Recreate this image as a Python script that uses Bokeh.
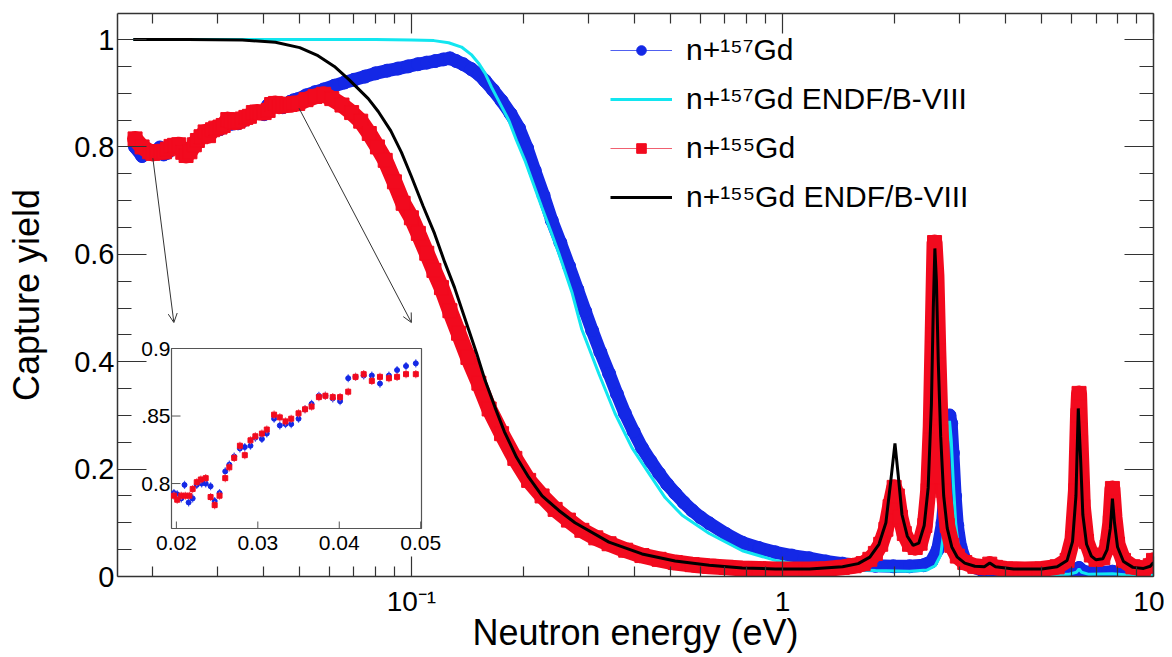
import numpy as np
from bokeh.plotting import figure
from bokeh.models import (ColumnDataSource, Range1d, LinearScale, FixedTicker,
                          LogAxis, LinearAxis, Legend, LegendItem, Arrow, OpenHead)
from bokeh.core.properties import value
from bokeh.embed import file_html
from bokeh.resources import INLINE

# ---------------- data ----------------
# n+157Gd measured capture yield (energy in eV)
e157 = [0.0180, 0.0188,
        0.0197, 0.0201, 0.0206, 0.0210, 0.0215, 0.0220, 0.0225, 0.0231, 0.0236, 0.0242,
        0.0247, 0.0253, 0.0260, 0.0265, 0.0271, 0.0278, 0.0284, 0.0291, 0.0297, 0.0305,
        0.0311, 0.0320, 0.0327, 0.0334, 0.0341, 0.0350, 0.0358, 0.0366, 0.0375, 0.0383,
        0.0392, 0.0401, 0.0411, 0.0420, 0.0430, 0.0440, 0.0450, 0.0461, 0.0471, 0.0482,
        0.0494,
        0.052, 0.055, 0.058, 0.062, 0.066, 0.070, 0.075, 0.080, 0.086, 0.092, 0.098,
        0.104, 0.110, 0.116, 0.122, 0.127, 0.132, 0.138, 0.145, 0.152, 0.158, 0.166,
        0.175, 0.185, 0.195, 0.205, 0.215, 0.227, 0.239, 0.252, 0.266, 0.280, 0.294,
        0.307, 0.323, 0.341, 0.358, 0.376, 0.397, 0.418, 0.441, 0.465, 0.489, 0.514,
        0.542, 0.571, 0.602, 0.635, 0.705, 0.780, 0.865, 0.957, 1.06, 1.18, 1.31,
        1.45, 1.61, 1.78, 1.99, 2.20, 2.40, 2.52, 2.62, 2.70, 2.75, 2.79, 2.82, 2.85,
        2.88, 2.92, 2.96, 3.02, 3.10, 3.25, 3.45, 3.62, 3.80, 4.3, 5.0, 5.7, 6.1, 6.3,
        6.5, 7.0, 7.75, 8.5, 9.3, 9.9]
y157 = [0.800, 0.783,
        0.793, 0.792, 0.789, 0.799, 0.786, 0.789, 0.799, 0.800, 0.800, 0.798,
        0.787, 0.793, 0.809, 0.814, 0.820, 0.826, 0.827, 0.828, 0.834, 0.833,
        0.837, 0.848, 0.843, 0.844, 0.844, 0.848, 0.855, 0.859, 0.865, 0.865,
        0.863, 0.861, 0.878, 0.879, 0.880, 0.880, 0.874, 0.880, 0.884, 0.887,
        0.889,
        0.896, 0.902, 0.907, 0.914, 0.920, 0.925, 0.931, 0.937, 0.942, 0.946, 0.950,
        0.954, 0.957, 0.960, 0.963, 0.965, 0.960, 0.954, 0.945, 0.935, 0.923, 0.906,
        0.886, 0.862, 0.835, 0.798, 0.756, 0.710, 0.663, 0.622, 0.578, 0.535, 0.494,
        0.458, 0.418, 0.378, 0.340, 0.304, 0.270, 0.240, 0.215, 0.192, 0.172, 0.155,
        0.138, 0.123, 0.110, 0.099, 0.079, 0.063, 0.053, 0.045, 0.039, 0.034, 0.028,
        0.024, 0.021, 0.020, 0.019, 0.019, 0.021, 0.028, 0.050, 0.100, 0.170, 0.250,
        0.300, 0.285, 0.230, 0.150, 0.095, 0.055, 0.032, 0.018, 0.012, 0.014, 0.010,
        0.008, 0.007, 0.007, 0.010, 0.016, 0.009, 0.007, 0.009, 0.007, 0.007, 0.010]

# n+155Gd measured capture yield
e155 = [0.0180, 0.0188,
        0.0197, 0.0201, 0.0206, 0.0211, 0.0216, 0.0220, 0.0225, 0.0230, 0.0236, 0.0242,
        0.0247, 0.0253, 0.0260, 0.0265, 0.0271, 0.0278, 0.0284, 0.0291, 0.0297, 0.0305,
        0.0311, 0.0320, 0.0327, 0.0334, 0.0341, 0.0350, 0.0358, 0.0366, 0.0375, 0.0383,
        0.0392, 0.0401, 0.0411, 0.0420, 0.0430, 0.0440, 0.0450, 0.0461, 0.0471, 0.0482,
        0.0494,
        0.052, 0.055, 0.058, 0.061, 0.065, 0.069, 0.073, 0.077, 0.081, 0.085, 0.090,
        0.095, 0.100, 0.1044, 0.110, 0.115, 0.1205, 0.127, 0.134, 0.142, 0.152, 0.162,
        0.175, 0.190, 0.207, 0.225, 0.244, 0.265, 0.288, 0.314, 0.341, 0.378, 0.418,
        0.465, 0.514, 0.571, 0.635, 0.705, 0.780, 0.865, 0.957, 1.06, 1.18, 1.31,
        1.45, 1.56, 1.65, 1.72, 1.78, 1.84, 1.90, 1.95, 2.00, 2.04, 2.08, 2.13, 2.20,
        2.28, 2.35, 2.42, 2.47, 2.51, 2.54, 2.57, 2.60, 2.63, 2.67, 2.72, 2.78, 2.86,
        2.96, 3.10, 3.30, 3.50, 3.62, 3.75, 4.0, 4.5, 5.0, 5.5, 5.85, 6.05, 6.18, 6.26,
        6.30, 6.36, 6.45, 6.6, 6.8, 7.0, 7.3, 7.5, 7.65, 7.75, 7.85, 8.0, 8.3, 8.8,
        9.4, 9.8, 10.0]
y155 = [0.815, 0.800,
        0.791, 0.788, 0.791, 0.791, 0.791, 0.796, 0.801, 0.803, 0.804, 0.790,
        0.784, 0.791, 0.804, 0.812, 0.819, 0.828, 0.821, 0.832, 0.835, 0.837,
        0.840, 0.851, 0.849, 0.846, 0.848, 0.852, 0.855, 0.857, 0.864, 0.865,
        0.864, 0.864, 0.868, 0.879, 0.881, 0.876, 0.879, 0.878, 0.879, 0.881,
        0.881,
        0.888, 0.894, 0.898, 0.890, 0.878, 0.864, 0.848, 0.825, 0.800, 0.775, 0.735,
        0.695, 0.668, 0.639, 0.602, 0.570, 0.538, 0.495, 0.453, 0.408, 0.360, 0.312,
        0.266, 0.220, 0.179, 0.150, 0.125, 0.105, 0.086, 0.072, 0.061, 0.049, 0.039,
        0.032, 0.026, 0.022, 0.019, 0.017, 0.015, 0.014, 0.013, 0.013, 0.013, 0.014,
        0.017, 0.020, 0.024, 0.032, 0.043, 0.060, 0.088, 0.130, 0.166, 0.150, 0.110,
        0.080, 0.060, 0.054, 0.062, 0.095, 0.160, 0.280, 0.450, 0.622, 0.560, 0.420,
        0.270, 0.160, 0.095, 0.058, 0.038, 0.026, 0.019, 0.017, 0.023, 0.017, 0.014,
        0.013, 0.014, 0.018, 0.030, 0.070, 0.160, 0.300, 0.341, 0.250, 0.130, 0.065,
        0.040, 0.032, 0.035, 0.055, 0.100, 0.164, 0.110, 0.060, 0.030, 0.018, 0.015,
        0.020, 0.030]

# ENDF/B-VIII evaluations
e157_endf = [0.0178, 0.050, 0.080, 0.100, 0.115, 0.126, 0.1365, 0.145, 0.1517, 0.158,
             0.1645, 0.173, 0.1829, 0.192, 0.2022, 0.213, 0.2245, 0.237, 0.2496, 0.2706,
             0.288, 0.3199, 0.3536, 0.3929, 0.4366, 0.4828, 0.5366, 0.6349, 0.7796, 0.957,
             1.183, 1.452, 1.782, 2.20, 2.45, 2.58, 2.67, 2.73, 2.77, 2.80, 2.82, 2.85,
             2.89, 2.93, 2.98, 3.06, 3.25, 3.6, 4.2, 5.0, 5.9, 6.2, 6.3, 6.4, 6.7, 7.75,
             8.5, 10.0]
y157_endf = [1.000, 1.000, 1.000, 0.999, 0.998, 0.994, 0.986, 0.972, 0.956, 0.937,
             0.911, 0.882, 0.850, 0.812, 0.775, 0.732, 0.688, 0.645, 0.602, 0.530,
             0.460, 0.378, 0.304, 0.240, 0.192, 0.147, 0.114, 0.080, 0.048, 0.030,
             0.019, 0.013, 0.011, 0.010, 0.012, 0.020, 0.040, 0.090, 0.170, 0.260, 0.290,
             0.255, 0.170, 0.100, 0.055, 0.030, 0.012, 0.006, 0.004, 0.003, 0.004, 0.008,
             0.014, 0.008, 0.004, 0.005, 0.003, 0.003]

e155_endf = [0.0178, 0.025, 0.035, 0.043, 0.050, 0.056, 0.062, 0.068, 0.0765, 0.0814,
             0.088, 0.094, 0.100, 0.1075, 0.1154, 0.123, 0.1307, 0.1426, 0.150, 0.1575,
             0.168, 0.178, 0.192, 0.207, 0.225, 0.2496, 0.276, 0.3407, 0.4184, 0.5137,
             0.6349, 0.7796, 0.957, 1.183, 1.452, 1.60, 1.72, 1.82, 1.90, 1.96, 2.01,
             2.05, 2.10, 2.17, 2.25, 2.33, 2.41, 2.47, 2.52, 2.55, 2.575, 2.60, 2.63,
             2.67, 2.72, 2.78, 2.86, 2.96, 3.10, 3.30, 3.50, 3.62, 3.75, 4.2, 5.0, 5.5,
             5.85, 6.05, 6.18, 6.27, 6.36, 6.45, 6.6, 6.8, 7.0, 7.3, 7.5, 7.65, 7.75,
             7.85, 8.0, 8.3, 8.8, 9.4, 9.8, 10.0]
y155_endf = [1.000, 1.000, 0.999, 0.995, 0.985, 0.970, 0.950, 0.925, 0.890, 0.866,
             0.830, 0.790, 0.745, 0.690, 0.639, 0.585, 0.538, 0.460, 0.415, 0.368,
             0.315, 0.270, 0.222, 0.185, 0.150, 0.123, 0.100, 0.064, 0.042, 0.029,
             0.021, 0.016, 0.014, 0.014, 0.018, 0.024, 0.036, 0.060, 0.100, 0.180, 0.248,
             0.190, 0.115, 0.075, 0.058, 0.062, 0.095, 0.165, 0.320, 0.500, 0.611, 0.550,
             0.400, 0.260, 0.150, 0.090, 0.055, 0.036, 0.025, 0.019, 0.018, 0.025, 0.018,
             0.014, 0.014, 0.018, 0.030, 0.065, 0.150, 0.313, 0.220, 0.115, 0.060, 0.038,
             0.031, 0.033, 0.050, 0.090, 0.145, 0.100, 0.055, 0.028, 0.017, 0.015, 0.019,
             0.026]

err157 = 0.003
err155 = 0.003

labels = ["n+\u00b9\u2075\u2077Gd", "n+\u00b9\u2075\u2077Gd ENDF/B-VIII",
          "n+\u00b9\u2075\u2075Gd", "n+\u00b9\u2075\u2075Gd ENDF/B-VIII"]

x_lim = (0.01614, 10.0)
y_lim = (0.0, 1.0485)
x_major = [0.1, 1.0, 10.0]
x_minor = [0.02, 0.03, 0.04, 0.05, 0.06, 0.07, 0.08, 0.09,
           0.2, 0.3, 0.4, 0.5, 0.6, 0.7, 0.8, 0.9,
           2, 3, 4, 5, 6, 7, 8, 9]
x_tick_text = {0.1: "10\u207b\u00b9", 1.0: "1", 10.0: "10"}
y_major = [0.0, 0.2, 0.4, 0.6, 0.8, 1.0]
y_minor = [0.05, 0.1, 0.15, 0.25, 0.3, 0.35, 0.45, 0.5, 0.55,
           0.65, 0.7, 0.75, 0.85, 0.9, 0.95]
y_tick_text = {0.0: "0", 0.2: "0.2", 0.4: "0.4", 0.6: "0.6", 0.8: "0.8", 1.0: "1"}

# inset (zoom of the low-energy part)
inset_xlim = (0.0194, 0.0501)
inset_ylim = (0.7667, 0.9)
inset_xticks = [0.02, 0.03, 0.04, 0.05]
inset_xtext = ["0.02", "0.03", "0.04", "0.05"]
inset_yticks = [0.8, 0.85, 0.9]
inset_ytext = ["0.8", ".85", "0.9"]
arrow_from = [(0.0201, 0.779), (0.0498, 0.872)]
arrow_to = [(0.0229, 0.473), (0.1, 0.473)]

BLUE = "#1428e6"
CYAN = "#12e6f0"
RED = "#f20a1e"
FONT = "Liberation Sans"
AX = "#333333"

# ---------------- figure ----------------
p = figure(width=1164, height=655, x_axis_type="log",
           x_range=Range1d(*x_lim), y_range=Range1d(*y_lim),
           output_backend="svg", toolbar_location=None, tools="",
           min_border_left=117, min_border_right=11,
           min_border_top=13, min_border_bottom=79)
p.grid.visible = False
p.outline_line_color = None


def style(ax, major_len, minor_len):
    ax.major_tick_in = major_len
    ax.major_tick_out = 0
    ax.minor_tick_in = minor_len
    ax.minor_tick_out = 0
    ax.axis_line_color = AX
    ax.axis_line_width = 1.5
    ax.major_tick_line_color = AX
    ax.minor_tick_line_color = AX
    ax.major_tick_line_width = 1.2
    ax.minor_tick_line_width = 1.2
    ax.major_label_text_font = FONT
    ax.major_label_text_color = "black"
    ax.axis_label_text_color = "black"


def hide_labels(ax):
    ax.major_label_text_font_size = "1px"
    ax.major_label_text_alpha = 0
    ax.major_label_standoff = 0


xax = p.below[0]
xax.ticker = FixedTicker(ticks=x_major, minor_ticks=x_minor)
xax.major_label_overrides = x_tick_text
style(xax, 20, 10)
xax.major_label_text_font_size = "28px"
xax.major_label_standoff = 9
xax.axis_label = "Neutron energy (eV)"
xax.axis_label_text_font = FONT
xax.axis_label_text_font_size = "36px"
xax.axis_label_text_font_style = "normal"
xax.axis_label_standoff = -8

yax = p.left[0]
yax.ticker = FixedTicker(ticks=y_major, minor_ticks=y_minor)
yax.major_label_overrides = y_tick_text
style(yax, 29, 14)
yax.major_label_text_font_size = "29px"
yax.major_label_standoff = 3
yax.axis_label = "Capture yield"
yax.axis_label_text_font = FONT
yax.axis_label_text_font_size = "36px"
yax.axis_label_text_font_style = "normal"
yax.axis_label_standoff = 24

top = LogAxis(ticker=FixedTicker(ticks=x_major, minor_ticks=x_minor))
style(top, 20, 10)
hide_labels(top)
p.add_layout(top, "above")

right = LinearAxis(ticker=FixedTicker(ticks=y_major, minor_ticks=y_minor))
style(right, 29, 14)
hide_labels(right)
p.add_layout(right, "right")

# ---------------- main curves ----------------
src157 = ColumnDataSource(dict(e=e157, y=y157))
src155 = ColumnDataSource(dict(e=e155, y=y155))

p.line("e", "y", source=src157, line_color=BLUE, line_width=13,
       line_join="round", line_cap="round")
sc157 = p.scatter("e", "y", source=src157, marker="circle", size=13,
                  fill_color=BLUE, line_color=BLUE)
ln157 = p.line(e157_endf, y157_endf, line_color=CYAN, line_width=3)
p.line("e", "y", source=src155, line_color=RED, line_width=16,
       line_join="round", line_cap="round")
sc155 = p.scatter("e", "y", source=src155, marker="square", size=14,
                  fill_color=RED, line_color=RED)
ln155 = p.line(e155_endf, y155_endf, line_color="black", line_width=3)

# ---------------- inset through extra (linear) ranges ----------------
# inset pad position as fractions of the main frame
fx0, fx1 = 54 / 1036, 304 / 1036
fy0, fy1 = 48 / 563, 228 / 563
wx = (inset_xlim[1] - inset_xlim[0]) / (fx1 - fx0)
wy = (inset_ylim[1] - inset_ylim[0]) / (fy1 - fy0)
ix0 = inset_xlim[0] - fx0 * wx
iy0 = inset_ylim[0] - fy0 * wy
p.extra_x_ranges = {"ix": Range1d(ix0, ix0 + wx)}
p.extra_x_scales = {"ix": LinearScale()}
p.extra_y_ranges = {"iy": Range1d(iy0, iy0 + wy)}
p.extra_y_scales = {"iy": LinearScale()}
IN = dict(x_range_name="ix", y_range_name="iy")

p.quad(left=[inset_xlim[0]], right=[inset_xlim[1]],
       bottom=[inset_ylim[0]], top=[inset_ylim[1]],
       fill_color="white", line_color="#555555", line_width=1.2, **IN)


def inset_source(e, y, err):
    e = np.array(e)
    y = np.array(y)
    m = (e >= inset_xlim[0]) & (e <= inset_xlim[1])
    return ColumnDataSource(dict(e=e[m], y=y[m], lo=y[m] - err, hi=y[m] + err))


in157 = inset_source(e157, y157, err157)
in155 = inset_source(e155, y155, err155)

eb157 = p.segment("e", "lo", "e", "hi", source=in157, line_color="#5060f0",
                  line_width=1.2, **IN)
p.scatter("e", "y", source=in157, marker="circle", size=5,
          fill_color=BLUE, line_color=BLUE, **IN)
eb155 = p.segment("e", "lo", "e", "hi", source=in155, line_color="#f06070",
                  line_width=1.2, **IN)
p.scatter("e", "y", source=in155, marker="square", size=5,
          fill_color=RED, line_color=RED, **IN)

p.ray(x=inset_xticks, y=[inset_ylim[0]] * len(inset_xticks), length=7,
      angle=np.pi / 2, length_units="screen", line_color="#555555", **IN)
p.ray(x=[inset_xlim[0]] * len(inset_yticks), y=inset_yticks, length=9,
      angle=0, length_units="screen", line_color="#555555", **IN)
p.text(x=inset_xticks, y=[inset_ylim[0]] * len(inset_xticks), text=inset_xtext,
       text_align="center", text_baseline="top", y_offset=7,
       text_font=value(FONT), text_font_size="21px", text_color="black", **IN)
p.text(x=[inset_xlim[0]] * len(inset_yticks), y=inset_yticks, text=inset_ytext,
       text_align="right", text_baseline="middle", x_offset=-1,
       text_font=value(FONT), text_font_size="21px", text_color="black", **IN)

for (xs, ys), (xe, ye) in zip(arrow_from, arrow_to):
    p.add_layout(Arrow(x_start=xs, y_start=ys, x_end=xe, y_end=ye,
                       line_color="#333333", line_width=1,
                       end=OpenHead(size=9, line_color="#333333", line_width=1)))

# ---------------- legend ----------------
legend = Legend(items=[
    LegendItem(label=labels[0], renderers=[eb157, sc157]),
    LegendItem(label=labels[1], renderers=[ln157]),
    LegendItem(label=labels[2], renderers=[eb155, sc155]),
    LegendItem(label=labels[3], renderers=[ln155]),
], location=(493, 362))
legend.background_fill_alpha = 0
legend.border_line_color = None
legend.label_text_font = FONT
legend.label_text_font_size = "30px"
legend.label_text_color = "black"
legend.glyph_width = 62
legend.glyph_height = 24
legend.label_standoff = 14
legend.spacing = 15
legend.padding = 0
legend.margin = 0
p.add_layout(legend)

open("out.html", "w").write(file_html(p, INLINE))
